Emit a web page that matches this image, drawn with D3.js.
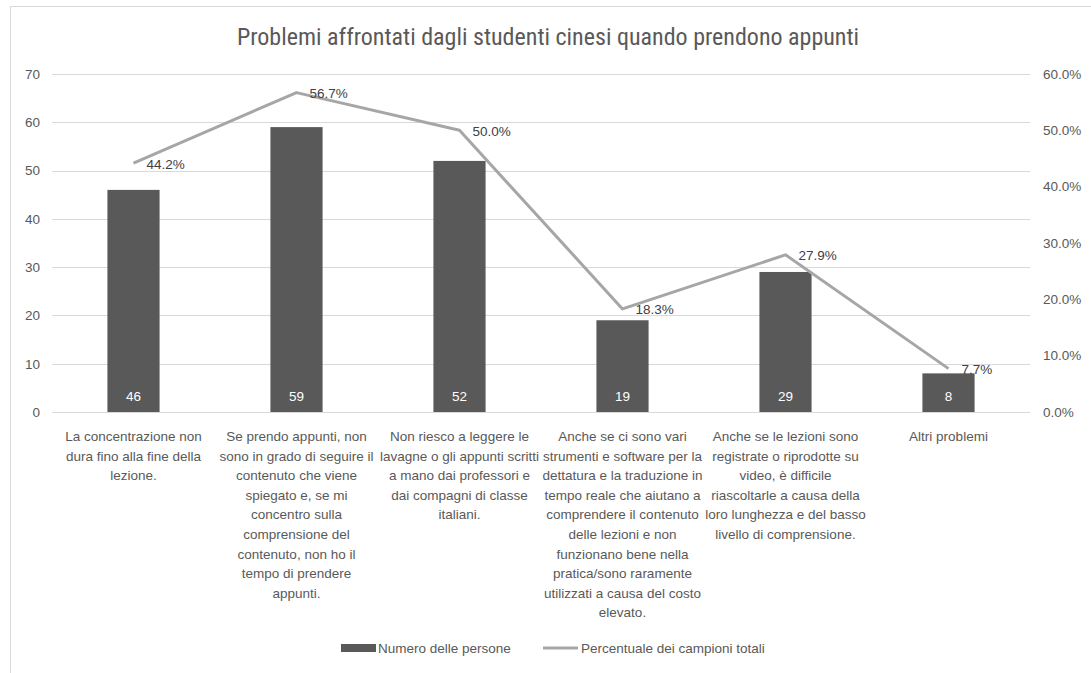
<!DOCTYPE html>
<html>
<head>
<meta charset="utf-8">
<script src="https://cdn.jsdelivr.net/npm/d3@7"></script>
<style>
  html, body { margin: 0; padding: 0; background: #fff; }
  svg { display: block; font-family: "Liberation Sans", Arial, sans-serif; }
</style>
</head>
<body>
<svg id="chart" width="1091" height="673"></svg>
<script>
const title = "Problemi affrontati dagli studenti cinesi quando prendono appunti";
const categories = [
  ["La concentrazione non", "dura fino alla fine della", "lezione."],
  ["Se prendo appunti, non", "sono in grado di seguire il", "contenuto che viene", "spiegato e, se mi", "concentro sulla", "comprensione del", "contenuto, non ho il", "tempo di prendere", "appunti."],
  ["Non riesco a leggere le", "lavagne o gli appunti scritti", "a mano dai professori e", "dai compagni di classe", "italiani."],
  ["Anche se ci sono vari", "strumenti e software per la", "dettatura e la traduzione in", "tempo reale che aiutano a", "comprendere il contenuto", "delle lezioni e non", "funzionano bene nella", "pratica/sono raramente", "utilizzati a causa del costo", "elevato."],
  ["Anche se le lezioni sono", "registrate o riprodotte su", "video, è difficile", "riascoltarle a causa della", "loro lunghezza e del basso", "livello di comprensione."],
  ["Altri problemi"]
];
const counts = [46, 59, 52, 19, 29, 8];
const percents = [44.2, 56.7, 50.0, 18.3, 27.9, 7.7];
const leftTicks = [0, 10, 20, 30, 40, 50, 60, 70];
const rightTicks = [0, 10, 20, 30, 40, 50, 60];
const seriesNames = ["Numero delle persone", "Percentuale dei campioni totali"];

const svg = d3.select("#chart");
const plot = { left: 52, right: 1030, top: 74, bottom: 412 };
const barColor = "#595959", lineColor = "#a6a6a6", gridColor = "#d9d9d9", textColor = "#595959";
const fs = 13.5;

// chart border
svg.append("rect").attr("x", 10.5).attr("y", 6.5).attr("width", 1200).attr("height", 800)
  .attr("fill", "none").attr("stroke", "#d9d9d9").attr("stroke-width", 1);

const x = d3.scaleBand().domain(d3.range(categories.length)).range([plot.left, plot.right]).paddingInner(0.68).paddingOuter(0.34);
const yL = d3.scaleLinear().domain([0, 70]).range([plot.bottom, plot.top]);
const yR = d3.scaleLinear().domain([0, 60]).range([plot.bottom, plot.top]);

// gridlines
svg.append("g").selectAll("line").data(leftTicks).join("line")
  .attr("x1", plot.left).attr("x2", plot.right)
  .attr("y1", d => Math.round(yL(d)) + 0.5).attr("y2", d => Math.round(yL(d)) + 0.5)
  .attr("stroke", gridColor).attr("stroke-width", 1);

// left axis
const axL = svg.append("g").attr("transform", `translate(${plot.left - 12},0)`)
  .call(d3.axisLeft(yL).tickValues(leftTicks).tickSize(0).tickPadding(0));
axL.select(".domain").remove();
axL.selectAll("text").attr("fill", textColor).style("font-size", fs + "px").style("font-family", "Liberation Sans, Arial, sans-serif");

// right axis
const axR = svg.append("g").attr("transform", `translate(${plot.right + 13},0)`)
  .call(d3.axisRight(yR).tickValues(rightTicks).tickSize(0).tickPadding(0).tickFormat(d => d.toFixed(1) + "%"));
axR.select(".domain").remove();
axR.selectAll("text").attr("fill", textColor).style("font-size", fs + "px").style("font-family", "Liberation Sans, Arial, sans-serif");

// bars
const bw = x.bandwidth();
svg.append("g").selectAll("rect").data(counts).join("rect")
  .attr("x", (d, i) => x(i)).attr("width", bw)
  .attr("y", d => yL(d)).attr("height", d => yL(0) - yL(d))
  .attr("fill", barColor);

// bar labels
svg.append("g").selectAll("text").data(counts).join("text")
  .attr("x", (d, i) => x(i) + bw / 2).attr("y", yL(0) - 16)
  .attr("text-anchor", "middle").attr("dominant-baseline", "central")
  .attr("fill", "#ffffff").style("font-size", fs + "px")
  .text(d => d);

// line
const cx = i => x(i) + bw / 2;
const line = d3.line().x((d, i) => cx(i)).y(d => yR(d));
svg.append("path").datum(percents).attr("d", line)
  .attr("fill", "none").attr("stroke", lineColor).attr("stroke-width", 3).attr("stroke-linejoin", "round");

// line labels
svg.append("g").selectAll("text").data(percents).join("text")
  .attr("x", (d, i) => cx(i) + 13).attr("y", d => yR(d) + 1)
  .attr("dominant-baseline", "central")
  .attr("fill", "#404040").style("font-size", fs + "px")
  .text(d => d.toFixed(1) + "%");

// category labels
const lh = 19.6;
const cg = svg.append("g");
categories.forEach((lines, i) => {
  const t = cg.append("text").attr("text-anchor", "middle").attr("fill", textColor).style("font-size", fs + "px");
  lines.forEach((ln, j) => {
    t.append("tspan").attr("x", cx(i)).attr("y", 441 + j * lh).text(ln);
  });
});

// title
svg.append("text").attr("x", 548).attr("y", 45).attr("text-anchor", "middle")
  .attr("fill", textColor).style("font-size", "24px")
  .style("font-family", "'Liberation Sans Narrow', 'Roboto Condensed', Arial, sans-serif")
  .text(title);

// legend
const lg = svg.append("g");
lg.append("rect").attr("x", 341).attr("y", 644).attr("width", 35).attr("height", 8).attr("fill", barColor);
lg.append("text").attr("x", 378).attr("y", 648).attr("dominant-baseline", "central")
  .attr("fill", textColor).style("font-size", fs + "px").text(seriesNames[0]);
lg.append("line").attr("x1", 543).attr("x2", 578).attr("y1", 648).attr("y2", 648)
  .attr("stroke", lineColor).attr("stroke-width", 3);
lg.append("text").attr("x", 581).attr("y", 648).attr("dominant-baseline", "central")
  .attr("fill", textColor).style("font-size", fs + "px").text(seriesNames[1]);
</script>
</body>
</html>
